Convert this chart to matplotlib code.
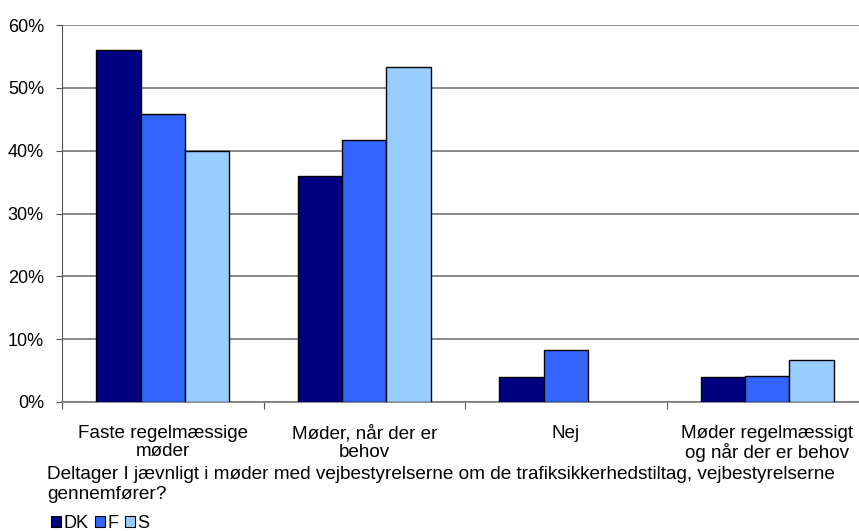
import numpy as np
import matplotlib.pyplot as plt
from matplotlib.patches import Patch

plt.rcParams["font.family"] = ["Liberation Sans", "DejaVu Sans"]
plt.rcParams["font.size"] = 12

# ------------------------------------------------------------
# data
# ------------------------------------------------------------
categories = [
    "Faste regelmæssige\nmøder",
    "Møder, når der er\nbehov",
    "Nej",
    "Møder regelmæssigt\nog når der er behov",
]
series_names = ["DK", "F", "S"]
dk_values = [0.56, 0.36, 0.04, 0.04]
f_values = [0.458, 0.417, 0.083, 0.042]
s_values = [0.40, 0.533, 0.0, 0.067]
y_ticks = [0.0, 0.1, 0.2, 0.3, 0.4, 0.5, 0.6]
x_title = ("Deltager I jævnligt i møder med vejbestyrelserne om de trafiksikkerhedstiltag, "
           "vejbestyrelserne\ngennemfører?")

colors = ["#000080", "#3366FF", "#99CCFF"]

# ------------------------------------------------------------
# plot
# ------------------------------------------------------------
fig = plt.figure(figsize=(8.59, 5.31), dpi=100)
ax = fig.add_axes([62 / 859, 1 - 402 / 531, 806 / 859, 377 / 531])

x = np.arange(len(categories))
width = 0.22
for i, (vals, col) in enumerate(zip([dk_values, f_values, s_values], colors)):
    # no outline for empty bars, otherwise a black line sits on the axis
    lw = [1.0 if v > 0 else 0 for v in vals]
    ax.bar(x + (i - 1) * width, vals, width, color=col, edgecolor="black",
           linewidth=lw, zorder=3)

ax.set_xlim(-0.5, len(categories) - 0.5)
ax.set_ylim(0, 0.6)
ax.set_yticks(y_ticks)
ax.set_yticklabels([f"{int(round(v * 100))}%" for v in y_ticks], fontsize=13)
ax.yaxis.grid(True, color="#808080", linewidth=1.3, zorder=0)

# ticks at category boundaries, labels at centres
ax.set_xticks(np.arange(-0.5, len(categories), 1.0))
ax.set_xticklabels([])
ax.set_xticks(x, minor=True)
ax.set_xticklabels(categories, minor=True, fontsize=13.6, linespacing=1.1)
ax.tick_params(axis="x", which="minor", length=0, pad=16.5)
ax.tick_params(axis="x", which="major", length=5, color="#555555", direction="out")
ax.tick_params(axis="y", length=4, color="#555555", pad=9)

for s in ["top", "right"]:
    ax.spines[s].set_visible(False)
ax.spines["left"].set_color("#555555")
ax.spines["bottom"].set_color("#808080")
ax.spines["bottom"].set_linewidth(1.3)

# axis title under the categories, stretched to about the width seen in the original
title = fig.text(47 / 859, 1 - 466 / 531, x_title, ha="left", va="top",
                 fontsize=12.4, linespacing=1.2)
fig.canvas.draw()
w = title.get_window_extent().width
title.set_fontsize(12.4 * 795 / w)

handles = [Patch(facecolor=c, edgecolor="black", linewidth=0.8) for c in colors]
fig.legend(handles, series_names, loc="center left", bbox_to_anchor=(51 / 859, 1 - 523 / 531),
           ncol=3, frameon=False, fontsize=13, handlelength=0.55, handleheight=0.55,
           handletextpad=0.15, columnspacing=0.35, borderaxespad=0, borderpad=0)

plt.savefig("out.png", dpi=100)
